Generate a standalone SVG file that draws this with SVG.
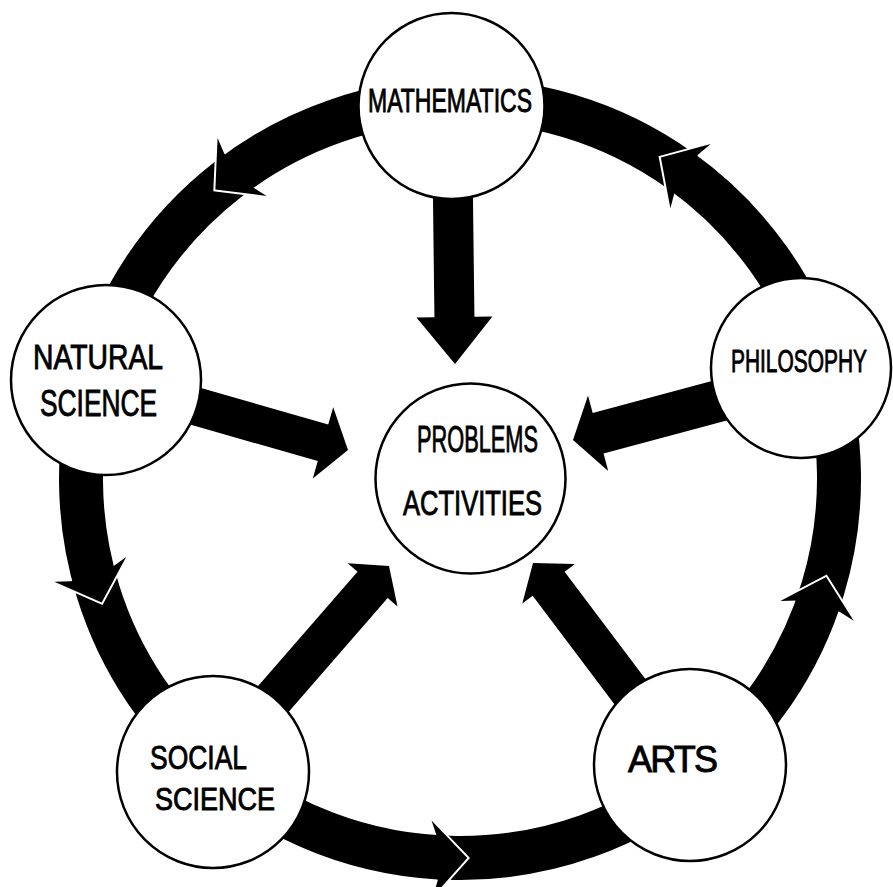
<svg xmlns="http://www.w3.org/2000/svg" width="893" height="887" viewBox="0 0 893 887">
<style>
.band{fill:none;stroke:#000;stroke-width:44}
.head{fill:#000}
.gap{fill:none;stroke:#fff;stroke-width:4;stroke-linejoin:miter}
.node circle{fill:#fff;stroke:#000;stroke-width:2.5}
.lbl{font-family:"Liberation Sans",Arial,sans-serif;fill:#000;stroke:#000;stroke-width:0.9}
</style>
<defs>
  <!-- arrowhead on the outer ring, drawn in a frame centred on the ring, tip at radius 379 -->
  <path id="ring-head" d="M379,0 L417,35 L401,30 L357,30 L341,35 Z"/>
  <polyline id="ring-gap" points="418,36 379,0 340,36"/>
</defs>
<rect width="893" height="887" fill="#fff"/>

<g id="connectors">
  <!-- outer ring: Mathematics > Natural Science > Social Science > Arts > Philosophy > Mathematics -->
  <path class="band" d="M452.06,100.08 A379,379 0 0 0 94.96,377.08"/>
  <path class="band" d="M94.96,377.08 A379,379 0 0 0 215.96,768.98"/>
  <path class="band" d="M215.96,768.98 A379,379 0 0 0 697.48,774.37"/>
  <path class="band" d="M697.48,774.37 A379,379 0 0 0 820.86,363.14"/>
  <path class="band" d="M820.86,363.14 A379,379 0 0 0 452.06,100.08"/>

  <g transform="translate(460,479) rotate(-130.2)"><use href="#ring-gap" class="gap"/><use href="#ring-head" class="head"/></g>
  <g transform="translate(460,479) rotate(161)"><use href="#ring-gap" class="gap"/><use href="#ring-head" class="head"/></g>
  <g transform="translate(460,479) rotate(88.9)"><use href="#ring-gap" class="gap"/><use href="#ring-head" class="head"/></g>
  <g transform="translate(460,479) rotate(15)"><use href="#ring-gap" class="gap"/><use href="#ring-head" class="head"/></g>
  <g transform="translate(460,479) rotate(-58)"><use href="#ring-gap" class="gap"/><use href="#ring-head" class="head"/></g>

  <!-- spokes into the centre, each drawn pointing +x with the tip at the origin -->
  <path class="head" transform="translate(455,364) rotate(89.3)" d="M-258,-20 L-47,-20 L-47,-38 L0,0 L-47,38 L-47,20 L-258,20 Z"/>
  <path class="head" transform="translate(348,450) rotate(16)" d="M-250,-19 L-26,-19 L-26,-37 L0,0 L-26,37 L-26,19 L-250,19 Z"/>
  <path class="head" transform="translate(573,440) rotate(165)" d="M-245,-21 L-26,-21 L-26,-39 L0,0 L-26,39 L-26,21 L-245,21 Z"/>
  <path class="head" transform="translate(389,566) rotate(-49)" d="M-270,-20 L-25,-20 L-25,-33 L0,0 L-25,33 L-25,20 L-270,20 Z"/>
  <path class="head" transform="translate(533,563) rotate(-127)" d="M-256,-20 L-26,-20 L-26,-33 L0,0 L-26,33 L-26,20 L-256,20 Z"/>
</g>

<g id="mathematics" class="node">
  <circle cx="451.5" cy="106" r="93"/>
  <text class="lbl" x="368" y="112" font-size="33" textLength="164" lengthAdjust="spacingAndGlyphs">MATHEMATICS</text>
</g>
<g id="natural-science" class="node">
  <circle cx="106" cy="380" r="95"/>
  <text class="lbl" x="33" y="369" font-size="35" textLength="130" lengthAdjust="spacingAndGlyphs">NATURAL</text>
  <text class="lbl" x="40" y="416" font-size="36" textLength="117" lengthAdjust="spacingAndGlyphs">SCIENCE</text>
</g>
<g id="philosophy" class="node">
  <circle cx="801" cy="368" r="90"/>
  <!-- condensed horizontally to fit inside the circle -->
  <text class="lbl" transform="translate(731,372) scale(0.654,1)" x="0" y="0" font-size="32">PHILOSOPHY</text>
</g>
<g id="problems-activities" class="node">
  <circle cx="470.5" cy="478.5" r="95"/>
  <text class="lbl" x="417" y="452" font-size="36" textLength="121" lengthAdjust="spacingAndGlyphs">PROBLEMS</text>
  <text class="lbl" x="403" y="515" font-size="35" textLength="139" lengthAdjust="spacingAndGlyphs">ACTIVITIES</text>
</g>
<g id="social-science" class="node">
  <circle cx="213" cy="772" r="96"/>
  <text class="lbl" x="150" y="769" font-size="34" textLength="97" lengthAdjust="spacingAndGlyphs">SOCIAL</text>
  <text class="lbl" x="155" y="810" font-size="31" textLength="120" lengthAdjust="spacingAndGlyphs">SCIENCE</text>
</g>
<g id="arts" class="node">
  <circle cx="690" cy="765" r="96"/>
  <text class="lbl" x="628" y="772" font-size="36" textLength="90" lengthAdjust="spacing">ARTS</text>
</g>
</svg>
